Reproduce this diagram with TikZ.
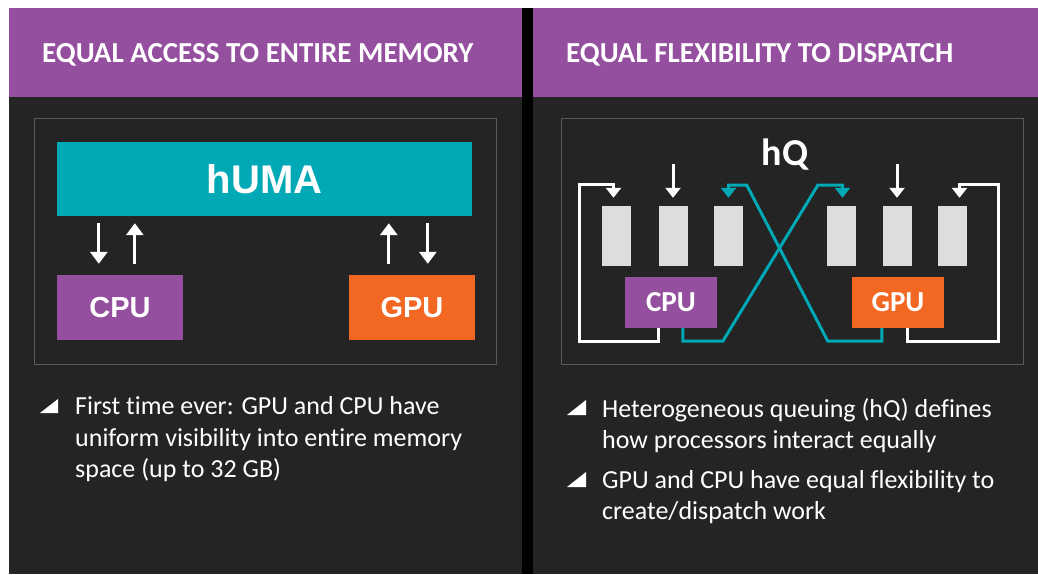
\documentclass[tikz,border=0pt]{standalone}
\usepackage{fontspec}
\setmainfont{Carlito}[Ligatures={NoCommon}]
\newfontfamily\arialf{Liberation Sans}
\usetikzlibrary{arrows.meta,calc}
\definecolor{darkbg}{HTML}{242424}
\definecolor{hdrpurple}{HTML}{954F9F}
\definecolor{boxpurple}{HTML}{94509E}
\definecolor{boxorange}{HTML}{F26722}
\definecolor{tealc}{HTML}{00A9B5}
\definecolor{qgray}{HTML}{DDDDDE}
\definecolor{outlinegray}{HTML}{5A5A5A}
\tikzset{
  hdrtext/.style={anchor=base west, inner sep=0, text=white, font=\fontsize{29}{34}\selectfont\bfseries},
  bultext/.style={anchor=base west, inner sep=0, text=white, font=\fontsize{26}{31}\selectfont},
  lbox/.style={minimum width=126pt, minimum height=65pt, inner sep=0, text=white, font=\arialf\fontsize{29}{34}\selectfont\bfseries},
  rbox/.style={minimum width=92pt, minimum height=51pt, inner sep=0, text=white, font=\fontsize{29}{32}\selectfont\bfseries},
  qblock/.style={fill=qgray, minimum width=29pt, minimum height=60pt, inner sep=0},
  larr/.style={white, line width=3pt, -{Triangle[width=17pt,length=12pt]}},
  warr/.style={white, line width=3pt, -{Triangle[width=15pt,length=10pt]}},
  tarr/.style={tealc, line width=3pt, -{Triangle[width=15pt,length=10pt]}},
}
\begin{document}
\begin{tikzpicture}[x=1pt,y=-1pt]
\useasboundingbox (0,0) rectangle (1038,574);
\fill[white] (0,0) rectangle (1038,574);
% panels
\fill[hdrpurple] (9,8) rectangle (522,97);
\fill[darkbg] (9,97) rectangle (522,574);
\fill[black] (522,8) rectangle (533,574);
\fill[hdrpurple] (533,8) rectangle (1038,97);
\fill[darkbg] (533,97) rectangle (1038,574);
\node[hdrtext] (h1) at (42,62) {EQUAL ACCESS TO ENTIRE MEMORY};
\node[hdrtext] (h2) at (566,62) {EQUAL FLEXIBILITY TO DISPATCH};
% inner frames
\draw[outlinegray, line width=1pt] (34.5,118.5) rectangle (496,364);
\draw[outlinegray, line width=1pt] (561,118.5) rectangle (1023,364);
% left diagram
\node[fill=tealc, minimum width=415pt, minimum height=74pt, inner sep=0, text=white,
      font=\arialf\fontsize{40}{44}\selectfont\bfseries] (huma) at (264.5,179) {hUMA};
\node[lbox, fill=boxpurple] (cpu) at (120,307.5) {CPU};
\node[lbox, fill=boxorange] (gpu) at (412,307.5) {GPU};
\draw[larr, shorten <=7pt, shorten >=11pt] ($(huma.south west)+(42,0)$) -- ($(cpu.north west)+(42,0)$);
\draw[larr, shorten <=11pt, shorten >=7pt] ($(cpu.north west)+(78,0)$) -- ($(huma.south west)+(78,0)$);
\draw[larr, shorten <=11pt, shorten >=7pt] ($(gpu.north west)+(40,0)$) -- ($(huma.south west)+(332,0)$);
\draw[larr, shorten <=7pt, shorten >=11pt] ($(huma.south west)+(371,0)$) -- ($(gpu.north west)+(79,0)$);
% right diagram
\node[text=white, inner sep=0, anchor=base, font=\fontsize{38}{42}\selectfont\bfseries] (hq) at (785,165) {hQ};
\node[qblock] (q1) at (616.5,236) {};
\node[qblock] (q2) at (673,236) {};
\node[qblock] (q3) at (728.5,236) {};
\node[qblock] (q4) at (841.5,236) {};
\node[qblock] (q5) at (897,236) {};
\node[qblock] (q6) at (952.5,236) {};
\node[rbox, fill=boxpurple] (rcpu) at (671,302.5) {CPU};
\node[rbox, fill=boxorange] (rgpu) at (898,302.5) {GPU};
\draw[warr] ($(rcpu.south west)+(34,0)$) |- ++(-79,13) |- ($(q1.north)+(-3,-21)$) -- ($(q1.north)+(-3,-8)$);
\draw[warr] ($(rgpu.south west)+(56,0)$) |- ++(91,13) |- ($(q6.north)+(7,-21)$) -- ($(q6.north)+(7,-8)$);
\draw[tarr] ($(rcpu.south west)+(58,0)$) |- ++(40,13) -- ++(95,-156) -| ($(q4.north)+(1,-8)$);
\draw[tarr] ($(rgpu.south west)+(30,0)$) |- ++(-54,13) -- ++(-81,-156) -| ($(q3.north)+(0,-8)$);
\draw[warr] ($(q2.north)+(0,-42)$) -- ($(q2.north)+(0,-8)$);
\draw[warr] ($(q5.north)+(0,-42)$) -- ($(q5.north)+(0,-8)$);
% bullets left
\fill[white] (40,413) -- (58,413) -- (58,399) -- cycle;
\node[bultext] (l1) at (75,414) {First time ever: GPU and CPU have};
\node[bultext] (l2) at (75,446) {uniform visibility into entire memory};
\node[bultext] (l3) at (75,477) {space (up to 32 GB)};
% bullets right
\fill[white] (567,415) -- (586,415) -- (586,400) -- cycle;
\node[bultext] (r1) at (602,417) {Heterogeneous queuing (hQ) defines};
\node[bultext] (r2) at (602,448) {how processors interact equally};
\fill[white] (567,487) -- (586,487) -- (586,472) -- cycle;
\node[bultext] (r3) at (602,488) {GPU and CPU have equal flexibility to};
\node[bultext] (r4) at (602,519) {create/dispatch work};
\end{tikzpicture}
\end{document}
